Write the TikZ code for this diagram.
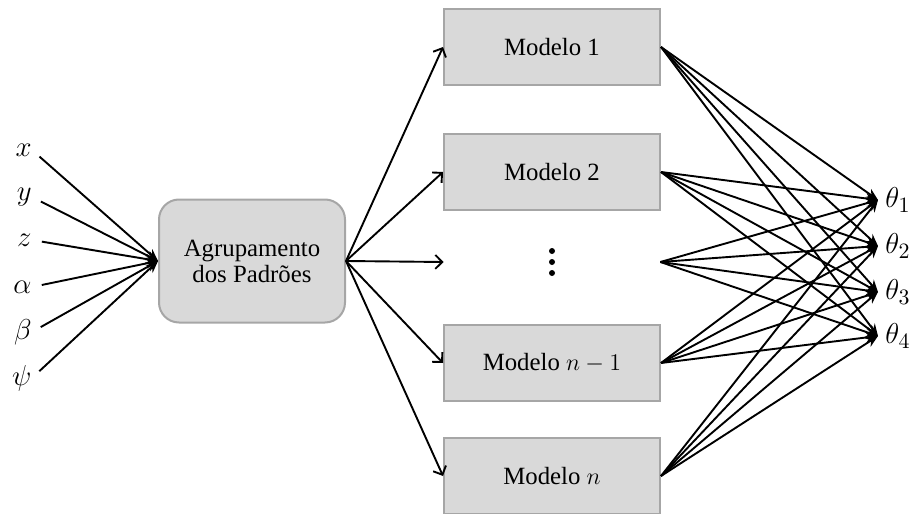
\documentclass[tikz,border=0pt]{standalone}
\usepackage{fontspec}
\setmainfont{Liberation Serif}
\usetikzlibrary{arrows.meta}
\definecolor{boxfill}{HTML}{D9D9D9}
\definecolor{boxline}{HTML}{A6A6A6}
\begin{document}
\begin{tikzpicture}[x=0.5pt,y=-0.5pt,
  font=\fontsize{12.4}{14}\selectfont,
  modelbox/.style={draw=boxline,fill=boxfill,line width=1pt,minimum width=108pt,minimum height=38pt,inner sep=0pt},
  groupbox/.style={draw=boxline,fill=boxfill,line width=1pt,rounded corners=10pt,minimum width=93pt,minimum height=61.5pt,align=center,inner sep=0pt},
  invar/.style={anchor=east,inner sep=0pt,font=\fontsize{15.5}{16}\selectfont},
  outvar/.style={anchor=west,inner xsep=3.5pt,inner ysep=1pt,font=\fontsize{15.5}{16}\selectfont},
  inarrow/.style={line width=0.95pt,-{Stealth[length=6pt,width=5pt]},shorten <=5pt},
  openarrow/.style={line width=0.95pt,-{Straight Barb[length=3.5pt,width=7pt]}},
  outarrow/.style={line width=0.95pt,-{Stealth[length=6pt,width=5pt]}}]
\useasboundingbox (0,0) rectangle (921,514);

% input variables
\node[invar] (vx) at (32,150) {$x$};
\node[invar] (vy) at (32,197) {$y$};
\node[invar] (vz) at (32,240) {$z$};
\node[invar] (va) at (32,287) {$\alpha$};
\node[invar] (vb) at (32,332) {$\beta$};
\node[invar] (vp) at (32,378) {$\psi$};

% grouping box
\node[groupbox] (agr) at (252,261) {Agrupamento\\[-1pt]dos Padrões};

% models
\node[modelbox] (m1) at (552,47) {Modelo 1};
\node[modelbox] (m2) at (552,172) {Modelo 2};
\node[minimum width=108pt,minimum height=20pt,inner sep=0pt] (md) at (552,262) {};
\foreach \dy in {-11,0,11}
  \fill ([yshift=-\dy*0.5pt]md.center) circle (1.5pt);
\node[modelbox] (mn1) at (552,363) {Modelo $n-1$};
\node[modelbox] (mn) at (552,476) {Modelo $n$};

% outputs
\node[outvar] (t1) at (878,200) {$\theta_1$};
\node[outvar] (t2) at (878,246) {$\theta_2$};
\node[outvar] (t3) at (878,292) {$\theta_3$};
\node[outvar] (t4) at (878,336) {$\theta_4$};

% input arrows
\foreach \v in {vx,vy,vz,va,vb,vp}
  \draw[inarrow] (\v.east) -- (agr.west);

% grouping to models
\foreach \m in {m1,m2,md,mn1,mn}
  \draw[openarrow] (agr.east) -- (\m.west);

% models to outputs
\foreach \m in {m1,m2,md,mn1,mn}
  \foreach \t in {t1,t2,t3,t4}
    \draw[outarrow] (\m.east) -- (\t.west);
\end{tikzpicture}
\end{document}
